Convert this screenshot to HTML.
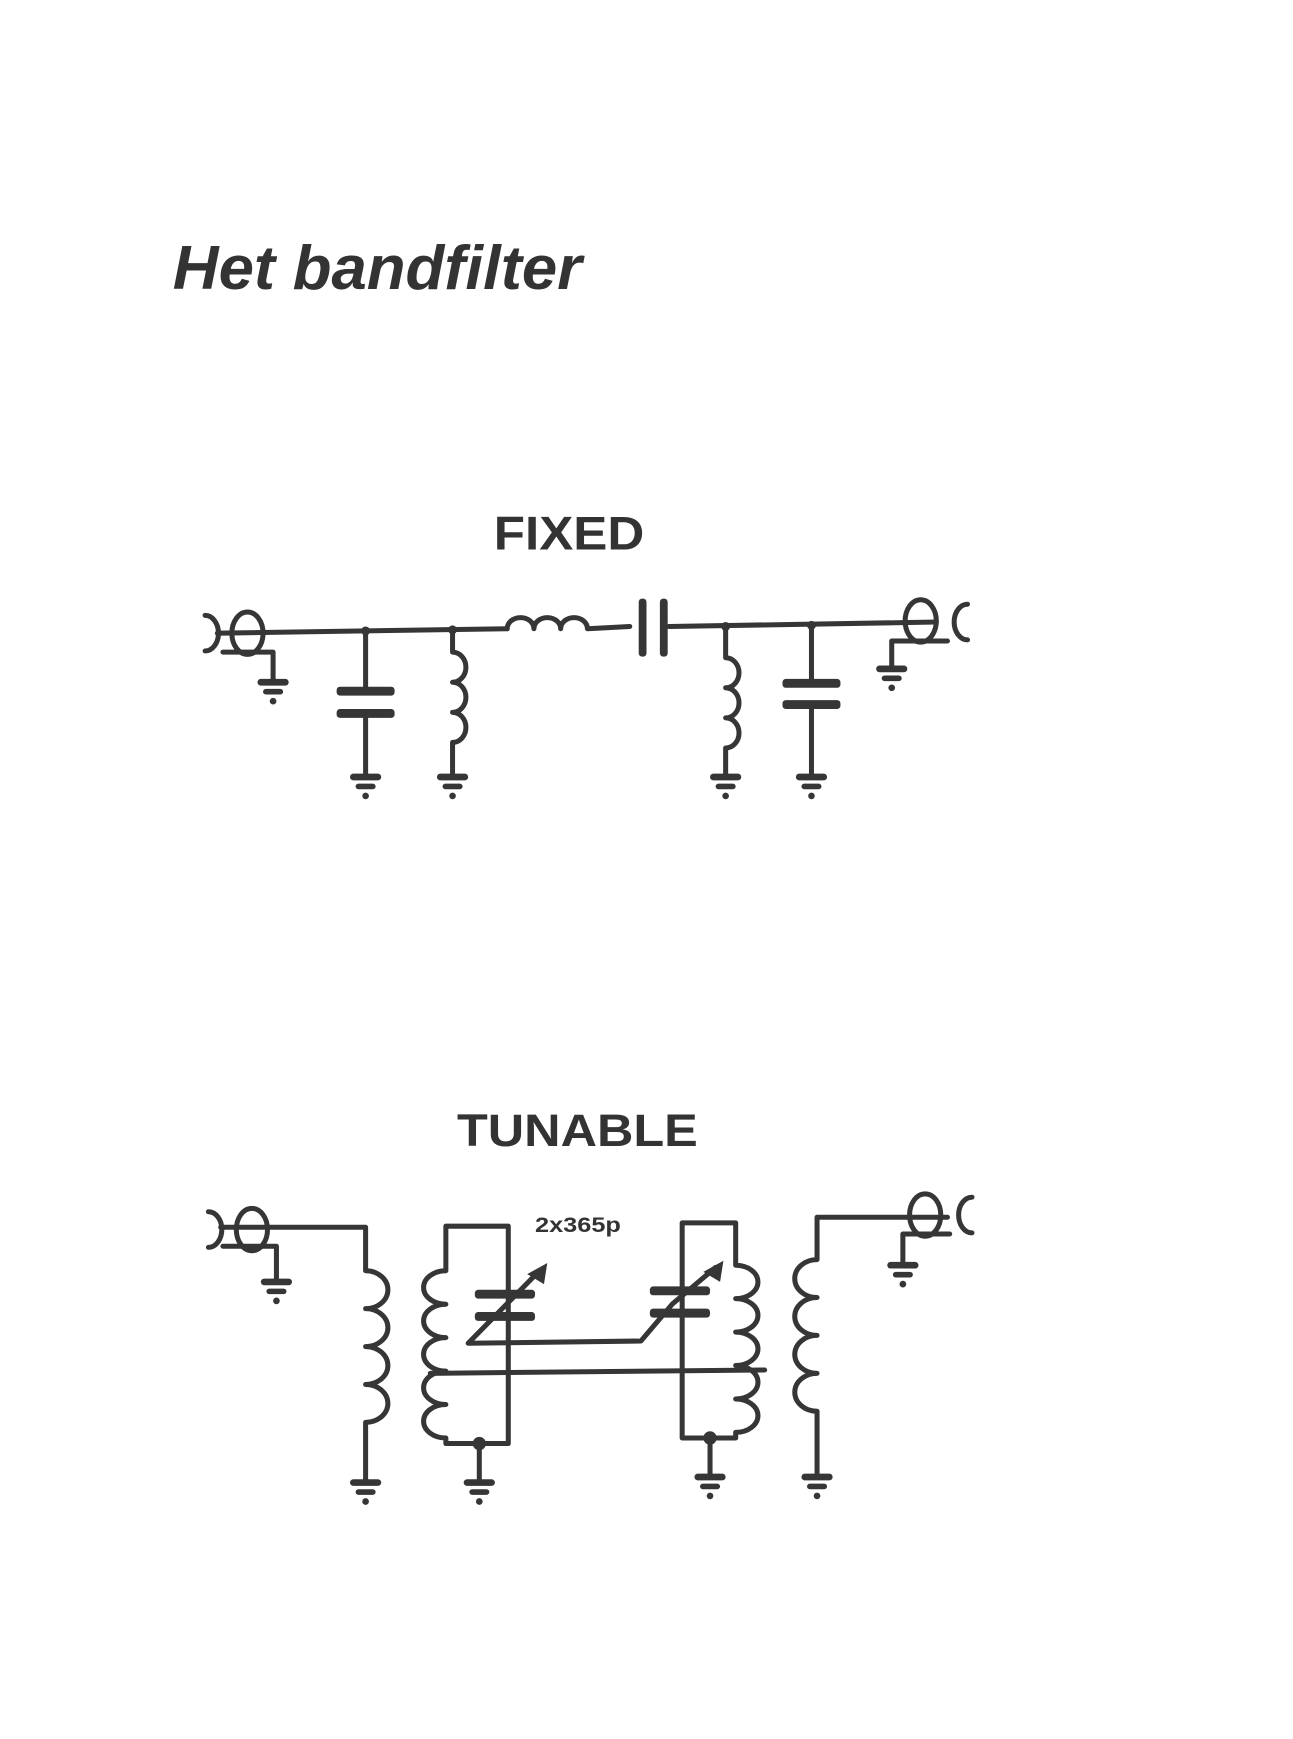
<!DOCTYPE html>
<html><head><meta charset="utf-8"><style>
html,body{margin:0;padding:0;background:#fff;}
svg{display:block;}
</style></head><body>
<svg width="1293" height="1739" viewBox="0 0 1160 1560" xmlns="http://www.w3.org/2000/svg">
<rect width="1160" height="1560" fill="#fff"/>
<text x="155" y="259" font-family="Liberation Sans, sans-serif" font-weight="bold" font-style="italic" font-size="56" fill="#333" textLength="367" lengthAdjust="spacingAndGlyphs">Het bandfilter</text>
<text x="443" y="493" font-family="Liberation Sans, sans-serif" font-weight="bold" font-size="42" fill="#333" textLength="135" lengthAdjust="spacingAndGlyphs">FIXED</text>
<text x="410" y="1028" font-family="Liberation Sans, sans-serif" font-weight="bold" font-size="41" fill="#333" textLength="216" lengthAdjust="spacingAndGlyphs">TUNABLE</text>
<text x="480" y="1105" font-family="Liberation Sans, sans-serif" font-weight="bold" font-size="19" fill="#333" textLength="77" lengthAdjust="spacingAndGlyphs">2x365p</text>

<g fill="none" stroke="#363636" stroke-width="4.5" stroke-linecap="round" stroke-linejoin="round">
<!-- FIXED -->
<path d="M184 552 a12 16 0 0 1 0 32"/>
<ellipse cx="222" cy="568" rx="14" ry="19"/>
<path d="M195 568 L455 564"/>
<path d="M455 564 a12 10 0 0 1 24 0 a12 10 0 0 1 24 0 a12 10 0 0 1 24 0 L565 562"/>
<path d="M600 562 L840 558"/>
<path d="M200 585 L245 585 L245 612"/>
<path d="M328 566 L328 617 M328 642 L328 697"/>
<path d="M406 565 L406 585 a12 13.5 0 0 1 0 27 a12 13.5 0 0 1 0 27 a12 13.5 0 0 1 0 27 L406 697"/>
<path d="M651 562 L651 590 a12 13.5 0 0 1 0 27 a12 13.5 0 0 1 0 27 a12 13.5 0 0 1 0 27 L651 697"/>
<path d="M728 561 L728 611 M728 634 L728 697"/>
<ellipse cx="826" cy="557" rx="14" ry="19"/>
<path d="M868 542 a12 16 0 0 0 0 32"/>
<path d="M850 575 L800 575 L800 600"/>
<!-- TUNABLE -->
<path d="M187 1087 a12 16 0 0 1 0 32"/>
<ellipse cx="226" cy="1103" rx="14" ry="19"/>
<path d="M198 1101 L328 1101 L328 1140 a20 17 0 0 1 0 34 a20 17 0 0 1 0 34 a20 17 0 0 1 0 34 a20 17 0 0 1 0 34 L328 1330"/>
<path d="M200 1118 L248 1118 L248 1150"/>
<path d="M456 1100 L400 1100 L400 1140 a20 15 0 0 0 0 30 a20 15 0 0 0 0 30 a20 15 0 0 0 0 30 a20 15 0 0 0 0 30 a20 15 0 0 0 0 30 L400 1295 L456 1295 L456 1100"/>
<path d="M430 1295 L430 1330"/>
<path d="M612 1097 L660 1097 L660 1135 a20 15 0 0 1 0 30 a20 15 0 0 1 0 30 a20 15 0 0 1 0 30 a20 15 0 0 1 0 30 a20 15 0 0 1 0 30 L660 1290 L612 1290 L612 1097"/>
<path d="M637 1290 L637 1325"/>
<path d="M386 1232 L686 1229"/>
<path d="M420 1205 L484 1140 M420 1205 L575 1203 L603 1170 L642 1137"/>
<path d="M850 1092 L733 1092 L733 1130 a20 17 0 0 0 0 34 a20 17 0 0 0 0 34 a20 17 0 0 0 0 34 a20 17 0 0 0 0 34 L733 1325"/>
<ellipse cx="830" cy="1090" rx="14" ry="19"/>
<path d="M872 1074 a12 16 0 0 0 0 32"/>
<path d="M852 1107 L810 1107 L810 1135"/>
</g>
<g fill="#363636">
<rect x="573" y="537" width="7" height="52" rx="3"/>
<rect x="592" y="537" width="7" height="52" rx="3"/>
<rect x="302" y="616" width="52" height="8" rx="3"/>
<rect x="302" y="636" width="52" height="8" rx="3"/>
<rect x="702" y="609" width="52" height="8" rx="3"/>
<rect x="702" y="628" width="52" height="8" rx="3"/>
<rect x="426" y="1157" width="54" height="8" rx="3"/>
<rect x="426" y="1177" width="54" height="8" rx="3"/>
<rect x="583" y="1154" width="54" height="8" rx="3"/>
<rect x="583" y="1174" width="54" height="8" rx="3"/>
<polygon points="491,1133 488,1152 473,1143"/>
<polygon points="649,1131 646,1150 631,1141"/>
<circle cx="328" cy="566" r="4"/><circle cx="406" cy="565" r="4"/>
<circle cx="651" cy="562" r="4"/><circle cx="728" cy="561" r="4"/>
<circle cx="430" cy="1295" r="6"/><circle cx="637" cy="1290" r="6"/>
</g>
<g fill="#363636">
<g transform="translate(245,612)"><rect x="-14" y="-3" width="28" height="6" rx="3"/><rect x="-9" y="6" width="18" height="5" rx="2.5"/><circle cx="0" cy="17" r="3"/></g>
<g transform="translate(328,697)"><rect x="-14" y="-3" width="28" height="6" rx="3"/><rect x="-9" y="6" width="18" height="5" rx="2.5"/><circle cx="0" cy="17" r="3"/></g>
<g transform="translate(406,697)"><rect x="-14" y="-3" width="28" height="6" rx="3"/><rect x="-9" y="6" width="18" height="5" rx="2.5"/><circle cx="0" cy="17" r="3"/></g>
<g transform="translate(651,697)"><rect x="-14" y="-3" width="28" height="6" rx="3"/><rect x="-9" y="6" width="18" height="5" rx="2.5"/><circle cx="0" cy="17" r="3"/></g>
<g transform="translate(728,697)"><rect x="-14" y="-3" width="28" height="6" rx="3"/><rect x="-9" y="6" width="18" height="5" rx="2.5"/><circle cx="0" cy="17" r="3"/></g>
<g transform="translate(800,600)"><rect x="-14" y="-3" width="28" height="6" rx="3"/><rect x="-9" y="6" width="18" height="5" rx="2.5"/><circle cx="0" cy="17" r="3"/></g>
<g transform="translate(248,1150)"><rect x="-14" y="-3" width="28" height="6" rx="3"/><rect x="-9" y="6" width="18" height="5" rx="2.5"/><circle cx="0" cy="17" r="3"/></g>
<g transform="translate(328,1330)"><rect x="-14" y="-3" width="28" height="6" rx="3"/><rect x="-9" y="6" width="18" height="5" rx="2.5"/><circle cx="0" cy="17" r="3"/></g>
<g transform="translate(430,1330)"><rect x="-14" y="-3" width="28" height="6" rx="3"/><rect x="-9" y="6" width="18" height="5" rx="2.5"/><circle cx="0" cy="17" r="3"/></g>
<g transform="translate(637,1325)"><rect x="-14" y="-3" width="28" height="6" rx="3"/><rect x="-9" y="6" width="18" height="5" rx="2.5"/><circle cx="0" cy="17" r="3"/></g>
<g transform="translate(733,1325)"><rect x="-14" y="-3" width="28" height="6" rx="3"/><rect x="-9" y="6" width="18" height="5" rx="2.5"/><circle cx="0" cy="17" r="3"/></g>
<g transform="translate(810,1135)"><rect x="-14" y="-3" width="28" height="6" rx="3"/><rect x="-9" y="6" width="18" height="5" rx="2.5"/><circle cx="0" cy="17" r="3"/></g>
</g>
</svg>
</body></html>
